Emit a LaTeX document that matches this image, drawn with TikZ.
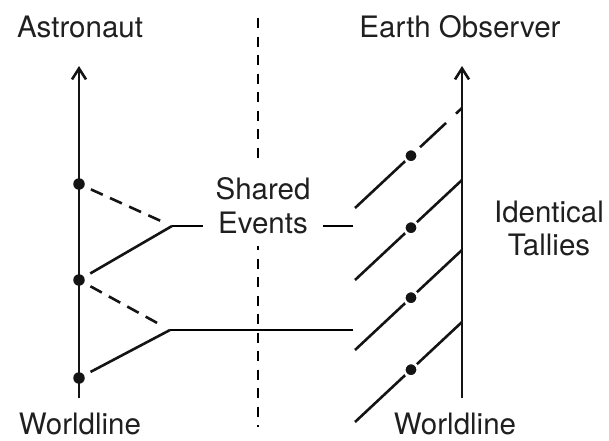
\documentclass[tikz,border=0pt]{standalone}
\usepackage{fontspec}
\setmainfont{TeX Gyre Heros}
\usetikzlibrary{arrows.meta,backgrounds}
\begin{document}
\begin{tikzpicture}[x=1pt,y=-1pt,
  every path/.style={line width=2.6pt},
  color=black!92,
  lbl/.style={font=\fontsize{29.5}{34}\selectfont, inner sep=0pt, text=black!88},
  dotl/.style={circle, fill=black!92, draw=none, inner sep=0pt, minimum size=11.5pt},
  dotr/.style={circle, fill=black!92, draw=white, line width=2.6pt, inner sep=0pt, minimum size=13.5pt},
  dashl/.style={dash pattern=on 13pt off 8pt},
  dashc/.style={dash pattern=on 10pt off 8.5pt},
  worldline/.style={-{Straight Barb[length=11pt,width=14pt,line width=2.6pt]}},
]
\useasboundingbox (0,0) rectangle (609,440);

% labels
\node[lbl, anchor=base] (astro) at (80,37) {Astronaut};
\node[lbl, anchor=base] (earth) at (460,37) {Earth Observer};
\node[lbl, anchor=base] (wl) at (80,434) {Worldline};
\node[lbl, anchor=base] (wr) at (455,434) {Worldline};
\node[lbl, anchor=base] (ident) at (549,222) {Identical};
\node[lbl, anchor=base] (tall) at (549,255) {Tallies};
\node[lbl, align=center, fill=white, inner xsep=13pt, inner ysep=12pt] (se) at (263,205.5) {Shared\\Events};

% coordinates
\coordinate (Lb) at (79,398);
\coordinate (Lt) at (79,66);
\coordinate (Rb) at (462,398);
\coordinate (Rt) at (462,66);
\coordinate (J1) at (172,226);
\coordinate (J2) at (170,330);
\coordinate (R1) at (353,226);
\coordinate (R2) at (353,330);
\coordinate (Ct) at (258,18);
\coordinate (Cb) at (258,427);

\begin{pgfonlayer}{background}
  \draw[dashc] (Ct) -- (Cb);
  \draw (J1) -- (R1);
  \draw (J2) -- (R2);
\end{pgfonlayer}

% left worldline
\draw[worldline] (Lb) -- (Lt);
\node[dotl] (d1) at (79,184) {};
\node[dotl] (d2) at (79,280) {};
\node[dotl] (d3) at (79,378) {};
\draw[dashl, shorten <=6pt, shorten >=9pt] (d1) -- (J1);
\draw[shorten <=6pt] (d2) -- (J1);
\draw[dashl, shorten <=6pt, shorten >=8pt] (d2) -- (J2);
\draw[shorten <=6pt] (d3) -- (J2);

% right worldline
\draw[worldline] (Rb) -- (Rt);
\coordinate (s1) at (355,422); \coordinate (e1) at (462,322);
\coordinate (s2) at (355,350); \coordinate (e2) at (462,250);
\coordinate (s3) at (355,280); \coordinate (e3) at (462,180);
\coordinate (s4) at (355,208); \coordinate (e4) at (462,108);
\draw (s1) -- (e1);
\draw (s2) -- (e2);
\draw (s3) -- (e3);
\draw[dash pattern=on 77pt off 12pt on 35.6pt off 13.6pt on 30pt] (s4) -- (e4);
\node[dotr] (r1) at (411,369.7) {};
\node[dotr] (r2) at (411,297.7) {};
\node[dotr] (r3) at (411,227.7) {};
\node[dotr] (r4) at (411,155.7) {};
\end{tikzpicture}
\end{document}
